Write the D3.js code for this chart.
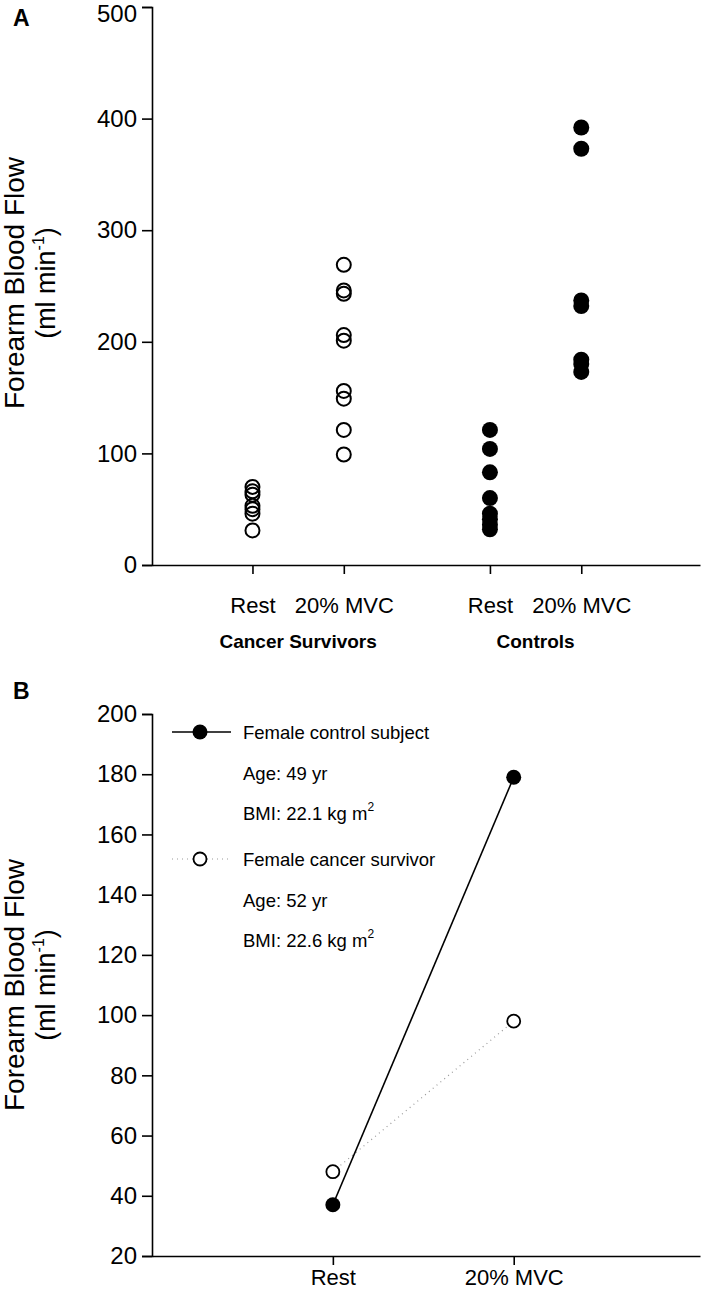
<!DOCTYPE html>
<html>
<head>
<meta charset="utf-8">
<script src="https://cdn.jsdelivr.net/npm/d3@7"></script>
<style>
  html, body { margin: 0; padding: 0; background: #fff; }
  svg { display: block; font-family: "Liberation Sans", Arial, Helvetica, sans-serif; }
</style>
</head>
<body>
<svg id="chart" width="709" height="1294"></svg>
<script>
// ---------- Panel A data ----------
const panelACategories = ["Rest", "20% MVC", "Rest", "20% MVC"];
const panelAPositions = [1.1, 2.1, 3.7, 4.7];
const panelAGroups = ["Cancer Survivors", "Controls"];
const panelAGroupPositions = [1.6, 4.2];
const cancerRest = [70, 66, 63, 53, 50, 46, 31];
const cancerMVC = [269, 246, 243, 206, 201, 156, 149, 121, 99];
const controlRest = [121, 104, 83, 60, 46, 41, 36, 32];
const controlMVC = [392, 373, 237, 232, 184, 180, 173];
const panelATicks = [0, 100, 200, 300, 400, 500];

// ---------- Panel B data ----------
const panelBCategories = ["Rest", "20% MVC"];
const panelBPositions = [1, 2];
const controlSubject = [37, 179];
const cancerSurvivor = [48, 98];
const panelBTicks = [20, 40, 60, 80, 100, 120, 140, 160, 180, 200];
const controlLegend = ["Female control subject", "Age: 49 yr", "BMI: 22.1 kg m"];
const survivorLegend = ["Female cancer survivor", "Age: 52 yr", "BMI: 22.6 kg m"];

const svg = d3.select("#chart");
const tickFont = 24;

function yTitle(g, cx, cy) {
  const t = g.append("g").attr("transform", `translate(${cx},${cy}) rotate(-90)`);
  t.append("text").attr("x", 0).attr("y", 0).attr("text-anchor", "middle")
    .attr("font-size", 28).text("Forearm Blood Flow");
  const t2 = t.append("text").attr("x", 0).attr("y", 31).attr("text-anchor", "middle")
    .attr("font-size", 27);
  t2.append("tspan").text("(ml min");
  t2.append("tspan").attr("dy", -11).attr("font-size", 16).text("-1");
  t2.append("tspan").attr("dy", 11).text(")");
}

function styleAxis(g) {
  g.selectAll("path.domain").attr("stroke", "#000").attr("stroke-width", 1.6);
  g.selectAll(".tick line").attr("stroke", "#000").attr("stroke-width", 1.6);
  g.selectAll(".tick text").attr("fill", "#000").attr("font-family", "Liberation Sans, Arial, sans-serif");
}

// ================= Panel A =================
const xA = d3.scaleLinear().domain([0, 6]).range([152, 700]);
const yA = d3.scaleLinear().domain([0, 500]).range([565, 7]);

svg.append("text").attr("x", 13).attr("y", 26).attr("font-size", 23)
  .attr("font-weight", "bold").text("A");

const yAxisA = svg.append("g").attr("transform", "translate(152,0)")
  .call(d3.axisLeft(yA).tickValues(panelATicks).tickSize(10).tickPadding(5).tickFormat(d3.format("d")));
yAxisA.selectAll(".tick text").attr("font-size", tickFont);
yAxisA.selectAll(".tick").filter(d => d === 500).select("text").attr("dy", "0.6em");
styleAxis(yAxisA);

const xAxisA = svg.append("g").attr("transform", "translate(0,565)")
  .call(d3.axisBottom(xA).tickValues(panelAPositions).tickSize(9).tickSizeOuter(0).tickPadding(23)
    .tickFormat((d, i) => panelACategories[i]));
xAxisA.selectAll(".tick text").attr("font-size", 22);
styleAxis(xAxisA);

svg.selectAll("text.groupA").data(panelAGroups).enter().append("text")
  .attr("class", "groupA")
  .attr("x", (d, i) => xA(panelAGroupPositions[i]))
  .attr("y", 648).attr("text-anchor", "middle").attr("font-size", 19)
  .attr("font-weight", "bold").text(d => d);

yTitle(svg, 24, 283);

const seriesA = [
  { values: cancerRest, pos: panelAPositions[0], filled: false },
  { values: cancerMVC, pos: panelAPositions[1], filled: false },
  { values: controlRest, pos: panelAPositions[2], filled: true },
  { values: controlMVC, pos: panelAPositions[3], filled: true }
];
seriesA.forEach(s => {
  svg.append("g").selectAll("circle").data(s.values).enter().append("circle")
    .attr("cx", xA(s.pos)).attr("cy", d => yA(d)).attr("r", s.filled ? 8 : 7)
    .attr("fill", s.filled ? "#000" : "none")
    .attr("stroke", "#000").attr("stroke-width", s.filled ? 0 : 2);
});

// ================= Panel B =================
const xB = d3.scaleLinear().domain([0, 3.03]).range([152, 700]);
const yB = d3.scaleLinear().domain([20, 200]).range([1256, 714]);

svg.append("text").attr("x", 13).attr("y", 699).attr("font-size", 23)
  .attr("font-weight", "bold").text("B");

const yAxisB = svg.append("g").attr("transform", "translate(152,0)")
  .call(d3.axisLeft(yB).tickValues(panelBTicks).tickSize(10).tickPadding(5).tickFormat(d3.format("d")));
yAxisB.selectAll(".tick text").attr("font-size", tickFont);
styleAxis(yAxisB);

const xAxisB = svg.append("g").attr("transform", "translate(0,1256)")
  .call(d3.axisBottom(xB).tickValues(panelBPositions).tickSize(9).tickSizeOuter(0).tickPadding(4)
    .tickFormat((d, i) => panelBCategories[i]));
xAxisB.selectAll(".tick text").attr("font-size", 22);
styleAxis(xAxisB);

yTitle(svg, 24, 985);

const line = d3.line().x((d, i) => xB(panelBPositions[i])).y(d => yB(d));

svg.append("path").datum(cancerSurvivor).attr("d", line)
  .attr("fill", "none").attr("stroke", "#999").attr("stroke-width", 1.2)
  .attr("stroke-dasharray", "1,4");
svg.append("path").datum(controlSubject).attr("d", line)
  .attr("fill", "none").attr("stroke", "#000").attr("stroke-width", 1.6);

svg.append("g").selectAll("circle").data(cancerSurvivor).enter().append("circle")
  .attr("cx", (d, i) => xB(panelBPositions[i])).attr("cy", d => yB(d)).attr("r", 6.5)
  .attr("fill", "#fff").attr("stroke", "#000").attr("stroke-width", 1.8);
svg.append("g").selectAll("circle").data(controlSubject).enter().append("circle")
  .attr("cx", (d, i) => xB(panelBPositions[i])).attr("cy", d => yB(d)).attr("r", 7.5)
  .attr("fill", "#000");

// Legend
function legendBlock(y0, entries, filled) {
  const g = svg.append("g");
  g.append("line").attr("x1", 172).attr("x2", 231).attr("y1", y0).attr("y2", y0)
    .attr("stroke", filled ? "#000" : "#999")
    .attr("stroke-width", filled ? 1.6 : 1.2)
    .attr("stroke-dasharray", filled ? null : "1,4");
  g.append("circle").attr("cx", 200).attr("cy", y0).attr("r", filled ? 7.5 : 6.5)
    .attr("fill", filled ? "#000" : "#fff").attr("stroke", "#000")
    .attr("stroke-width", filled ? 0 : 1.8);
  entries.forEach((t, i) => {
    const txt = g.append("text").attr("x", 243).attr("y", y0 + 7 + i * 40.5)
      .attr("font-size", 18.5).text(t);
    if (i === 2) {
      txt.append("tspan").attr("dy", -9).attr("font-size", 12).text("2");
    }
  });
}
legendBlock(732, controlLegend, true);
legendBlock(859, survivorLegend, false);
</script>
</body>
</html>
